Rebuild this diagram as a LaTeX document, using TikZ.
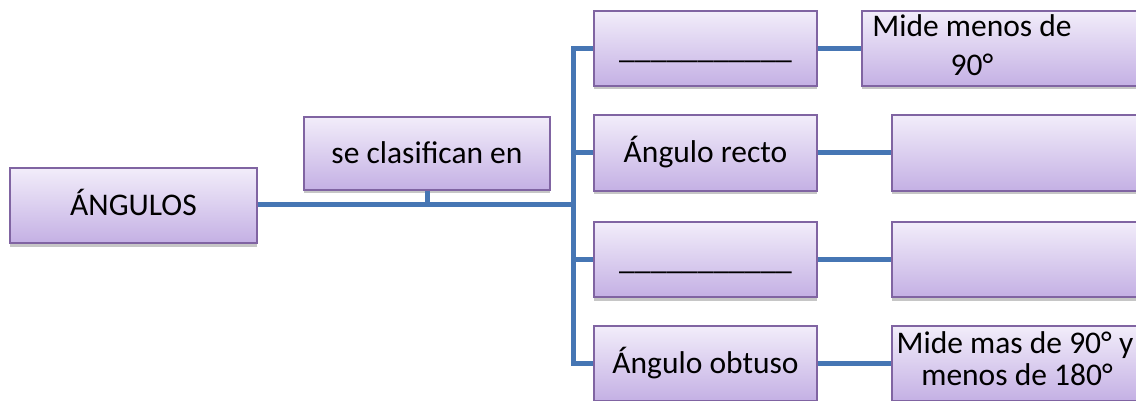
\documentclass[tikz,border=0pt]{standalone}
\usepackage{fontspec}
\setmainfont{Carlito}
\usetikzlibrary{shadows}
\definecolor{lineaazul}{RGB}{70,118,180}
\definecolor{bordemorado}{RGB}{128,100,162}
\definecolor{lilaclaro}{RGB}{242,237,250}
\definecolor{lilaoscuro}{RGB}{196,176,228}

\begin{document}
\begin{tikzpicture}[x=1pt,y=-1pt,
    caja/.style={draw=bordemorado, line width=1.8pt, top color=lilaclaro, bottom color=lilaoscuro,
      minimum height=75pt, inner sep=0pt, text height=20pt, text depth=0pt,
      font=\fontsize{31.5}{32}\selectfont,
      drop shadow={shadow xshift=0pt, shadow yshift=-3.5pt, opacity=0.45}},
    texto/.style={font=\fontsize{31.5}{32}\selectfont, inner sep=0pt, anchor=base},
    linea/.style={draw=lineaazul, line width=5pt}]
  \useasboundingbox (0,0) rectangle (1136,401);
  \clip (0,0) rectangle (1136,401);
  % cajas
  \node[caja, minimum width=247pt] (angulos) at (133.5,205.5) {ÁNGULOS};
  \node[caja, minimum width=246pt, minimum height=73pt] (clasif) at (427,153.5) {se clasifican en};
  \node[caja, minimum width=223pt] (b1) at (705.5,48.5) {\_\_\_\_\_\_\_\_\_\_\_};
  \node[caja, minimum width=223pt, minimum height=76pt] (b2) at (705.5,153) {Ángulo recto};
  \node[caja, minimum width=223pt] (b3) at (705.5,259.5) {\_\_\_\_\_\_\_\_\_\_\_};
  \node[caja, minimum width=223pt] (b4) at (705.5,363.5) {Ángulo obtuso};
  \node[caja, minimum width=288pt] (r1) at (1006,48.5) {};
  \node[caja, minimum width=258pt, minimum height=76pt] (r2) at (1021,153) {};
  \node[caja, minimum width=258pt] (r3) at (1021,259.5) {};
  \node[caja, minimum width=258pt] (r4) at (1021,363.5) {};
  \node[texto] (t1a) at (972,37) {Mide menos de};
  \node[texto] (t1b) at (972,76) {90°};
  \node[texto] (t4a) at (1015,353) {Mide mas de 90° y};
  \node[texto] (t4b) at (1017,385) {menos de 180°};
  % lineas
  \coordinate (tronco) at (573,205);
  \draw[linea] (angulos.east |- tronco) -- (tronco);
  \draw[linea] (clasif.south) -- (clasif.south |- tronco);
  \draw[linea] (b1.west) -- (b1.west -| tronco) -- (b4.west -| tronco) -- (b4.west);
  \draw[linea] (b2.west -| tronco) -- (b2.west);
  \draw[linea] (b3.west -| tronco) -- (b3.west);
  \foreach \i in {1,...,4}
    \draw[linea] (b\i.east) -- (r\i.west |- b\i.east);
\end{tikzpicture}
\end{document}
